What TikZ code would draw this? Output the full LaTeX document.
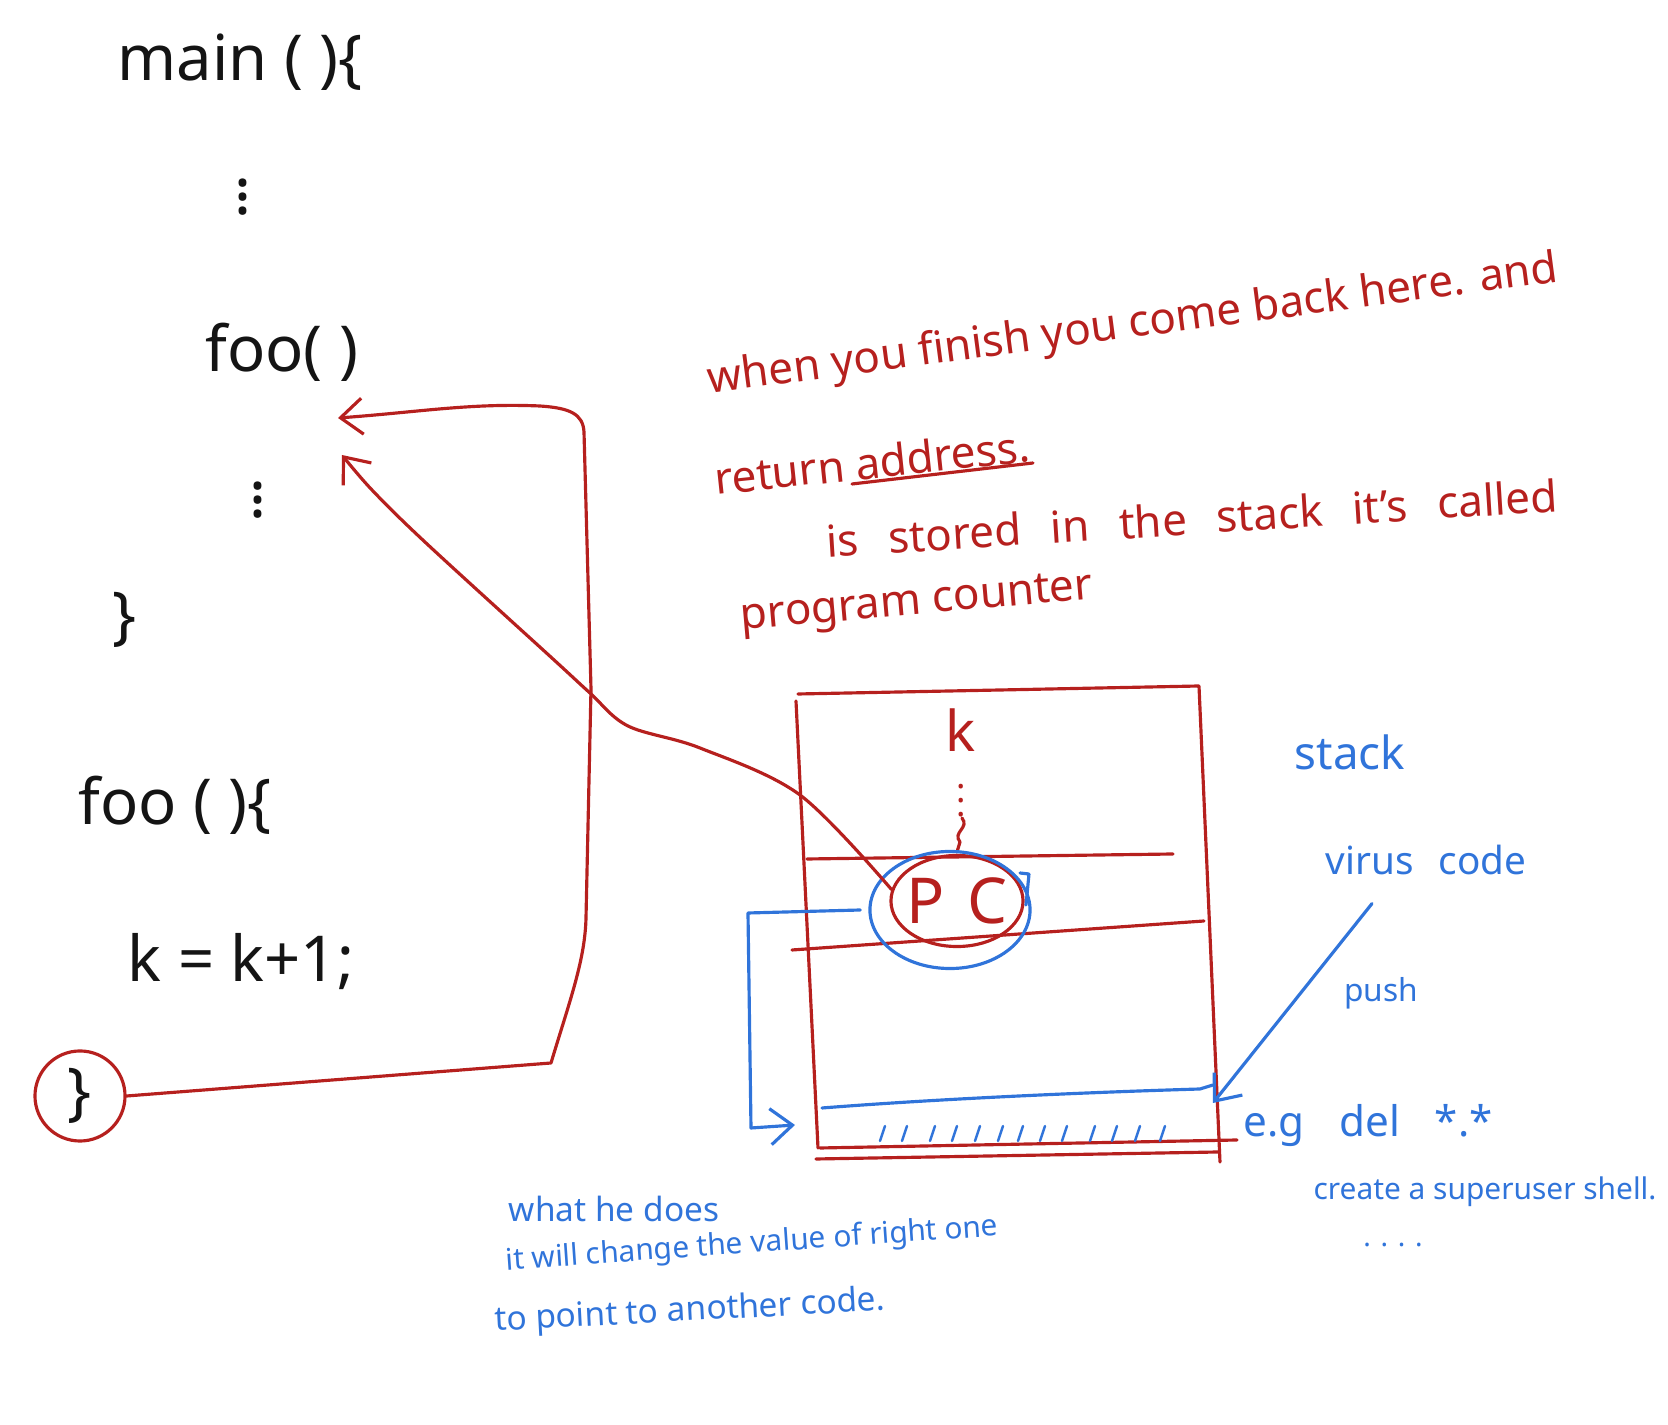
\documentclass[tikz,border=0pt]{standalone}
\usepackage{fontspec}
\setmainfont{Noto Sans}
\usetikzlibrary{shapes.geometric,arrows.meta}
\definecolor{inkred}{RGB}{182,32,30}
\definecolor{inkblue}{RGB}{48,116,218}
\definecolor{inkblack}{RGB}{20,20,20}
\begin{document}
\begin{tikzpicture}[x=0.01cm,y=-0.01cm,
  redpen/.style={draw=inkred,line width=0.9pt,line cap=round,line join=round},
  bluepen/.style={draw=inkblue,line width=0.9pt,line cap=round,line join=round},
  code/.style={text=inkblack,inner sep=0pt,font=\fontsize{18}{20}\selectfont},
  rednote/.style={text=inkred,inner sep=0pt,font=\fontsize{12.5}{14}\selectfont},
  bluenote/.style={text=inkblue,inner sep=0pt},
  barbed/.style={-{Straight Barb[length=2.2mm,width=3.6mm]}}
]
\useasboundingbox (0,0) rectangle (1668,1425);

% ---------- code (black) ----------
\node[code] (main) at (240,62) {main ( )\{};
\node[code] (dotsA) at (243,187) {$\vdots$};
\node[code] (foocall) at (282,352) {foo( )};
\node[code] (dotsB) at (258,490) {$\vdots$};
\node[code] (mainend) at (125,620) {\}};
\node[code] (foodef) at (175,805) {foo ( )\{};
\node[code] (incr) at (241,962) {k = k+1;};
\node[code,circle,draw=inkred,line width=0.9pt,minimum size=0.9cm,inner sep=0pt] (fooend) at (80,1096) {\}};

\coordinate (retpt) at (338,418);
\coordinate (callpt) at (342,455);

% return arrow
\draw[redpen,barbed] (fooend.east) -- (551,1063)
  .. controls (570,1000) and (585,960) .. (586,918)
  -- (591,689) -- (584,432)
  .. controls (583,414) and (570,408) .. (540,406)
  .. controls (470,403) and (420,412) .. (retpt);

% ---------- red notes ----------
\node[rednote,rotate=7.5] (n1) at (1133,326) {when you finish you come back here. and};
\node[rednote,rotate=6] (n2) at (872,462) {return address.};
\node[rednote,rotate=3.6,font={\fontsize{12.5}{14}\selectfont\spaceskip=8.5pt}] (n3) at (1192,518) {is stored in the stack it's called};
\node[rednote,rotate=5] (n4) at (917,605) {program counter};
\draw[redpen] (852,484) -- (1033,463);

% ---------- stack box ----------
\draw[redpen] (798,694) -- (1000,690) -- (1199,686) -- (1220,1162);
\draw[redpen] (796,701) -- (818,1148);
\draw[redpen] (807,859) -- (1173,854);
\draw[redpen] (792,950) -- (1204,921);
\draw[redpen] (820,1148) -- (1237,1140);
\draw[redpen] (816,1159) -- (1218,1152);

\node[rednote,font=\fontsize{16}{18}\selectfont] (kslot) at (961,730) {k};
\node[text=inkred,inner sep=0pt,font=\fontsize{10}{12}\selectfont] (kdots) at (961,790) {$\vdots$};
\draw[redpen] (962,818) .. controls (970,828) and (952,832) .. (960,842) -- (957,852);

% PC
\node[ellipse,draw=inkred,line width=0.9pt,minimum width=1.32cm,minimum height=0.91cm,inner sep=0pt] (pc) at (957,901) {};
\node[text=inkred,inner sep=0pt,font=\fontsize{18}{20}\selectfont] (pctext) at (pc) {P\hspace{0.22cm}C};
\node[ellipse,draw=inkblue,line width=0.9pt,minimum width=1.6cm,minimum height=1.17cm,inner sep=0pt] (pcring) at (950,910) {};
\draw[bluepen] (1020,873) -- (1029,874) -- (1026,905);

% call arrow (PC -> after foo())
\draw[redpen,barbed] plot[smooth,tension=0.55] coordinates {(pc.170) (800,795) (700,748) (628,726) (590,693) (553,659) (426,543) (372,490) (callpt)};

% ---------- blue parts ----------
\coordinate (bufstart) at (795,1125);
\draw[bluepen,barbed] ([xshift=-0.08cm]pcring.west) -- (748,913) -- (751,1128) -- (bufstart);
\draw[bluepen] (822,1108) .. controls (950,1098) and (1100,1092) .. (1200,1089) -- (1213,1085);
\foreach \hx in {880,902,930,952,975,998,1018,1040,1062,1090,1112,1135,1160}
  \draw[bluepen,line width=0.7pt] (\hx,1141) -- (\hx+5,1126);

\node[bluenote,font=\fontsize{13}{15}\selectfont] (stacklbl) at (1350,752) {stack};
\node[bluenote,font=\fontsize{11}{13}\selectfont] (virus) at (1426,860) {virus\hspace{0.25cm}code};
\node[bluenote,font=\fontsize{9}{11}\selectfont] (push) at (1381,993) {push};
\node[bluenote,font=\fontsize{12}{14}\selectfont] (eg) at (1368,1126) {e.g\hspace{0.35cm}del\hspace{0.35cm}*.*};
\node[bluenote,font=\fontsize{8.5}{10}\selectfont] (shell) at (1485,1192) {create a superuser shell.};
\node[bluenote,font=\fontsize{8}{10}\selectfont] (etc) at (1393,1245) {. . . .};

\coordinate (retslot) at (1213,1103);
\draw[bluepen,barbed] ([shift={(-54,28)}]virus.south) -- (retslot);

\node[bluenote,font=\fontsize{9.5}{11}\selectfont] (what) at (614,1209) {what he does};
\node[bluenote,font=\fontsize{8.5}{10}\selectfont,rotate=4] (change) at (752,1245) {it will change the value of right one};
\node[bluenote,font=\fontsize{9.5}{11}\selectfont,rotate=3] (point) at (690,1312) {to point to another code.};
\end{tikzpicture}
\end{document}
